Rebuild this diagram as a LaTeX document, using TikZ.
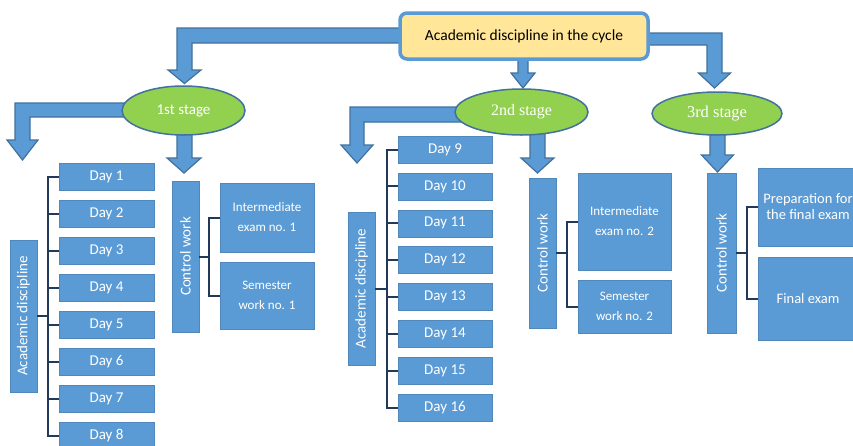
\documentclass[tikz,border=0pt]{standalone}
\usepackage{fontspec}
\setmainfont{Carlito}
\newfontfamily\stagefont{Liberation Serif}
\usetikzlibrary{shapes.geometric}
\definecolor{boxblue}{HTML}{5B9BD5}
\definecolor{edgeblue}{HTML}{41719C}
\definecolor{stagegreen}{HTML}{92D050}
\definecolor{titlefill}{HTML}{FFE699}
\definecolor{brackc}{HTML}{22395A}
\begin{document}
\begin{tikzpicture}[x=1pt,y=-1pt,
 bbox/.style={rectangle, fill=boxblue, draw=boxblue!88!black, line width=0.5pt, text=white, inner sep=0pt, font=\fontsize{15}{18}\selectfont},
 daybox/.style={bbox, minimum width=95pt, minimum height=27pt},
 vbox/.style={bbox, rotate=90, minimum height=27pt},
 exbox/.style={bbox, align=center, font=\fontsize{13}{20}\selectfont},
 stage/.style={ellipse, fill=stagegreen, draw=edgeblue, line width=1.5pt, text=white, inner sep=0pt},
 barrow/.style={fill=boxblue, draw=edgeblue, line width=1.2pt, line join=miter},
 brk/.style={draw=brackc, line width=2pt},
]
\useasboundingbox (0,0) rectangle (853,445);
\clip (0,0) rectangle (853,445);
\fill[white] (0,0) rectangle (853,445);

% block arrows
\draw[barrow] (410,28) -- (177,28) -- (177,70) -- (168,70) -- (184.5,83.5) -- (201,70) -- (192,70) -- (192,43) -- (410,43) -- cycle;
\draw[barrow] (518,55) -- (518,73) -- (511,73) -- (523,88) -- (535,73) -- (528,73) -- (528,55) -- cycle;
\draw[barrow] (640,33) -- (722,33) -- (722,73) -- (730.5,73) -- (714.5,88) -- (698.5,73) -- (707,73) -- (707,45) -- (640,45) -- cycle;
\draw[barrow] (140,103) -- (15,103) -- (15,140) -- (7,140) -- (22.5,160) -- (38,140) -- (30,140) -- (30,117) -- (140,117) -- cycle;
\draw[barrow] (177,125) -- (177,158) -- (167,158) -- (184,173) -- (201,158) -- (192,158) -- (192,125) -- cycle;
\draw[barrow] (470,107) -- (350,107) -- (350,145) -- (341,145) -- (357,163) -- (373,145) -- (364,145) -- (364,122) -- (470,122) -- cycle;
\draw[barrow] (530,125) -- (530,158) -- (521,158) -- (537.5,173) -- (554,158) -- (545,158) -- (545,125) -- cycle;
\draw[barrow] (710,125) -- (710,155) -- (701.5,155) -- (717.5,172) -- (733.5,155) -- (725,155) -- (725,125) -- cycle;

% title and stages
\node[rectangle, rounded corners=7pt, fill=titlefill, draw=boxblue, line width=3.5pt, minimum width=248pt, minimum height=46pt, font=\fontsize{15.5}{18}\selectfont] (top) at (524,36) {Academic discipline in the cycle};
\node[stage, minimum width=123pt, minimum height=49pt, font=\fontsize{15}{18}\selectfont] (s1) at (183.5,110.5) {1st stage};
\node[stage, minimum width=133pt, minimum height=46pt, font=\stagefont\fontsize{16}{18}\selectfont] (s2) at (521.5,112) {2nd stage};
\node[stage, minimum width=130pt, minimum height=43pt, font=\stagefont\fontsize{16.5}{18}\selectfont] (s3) at (717,113.5) {3rd stage};

% column 1
\foreach \i in {1,...,8} \node[daybox] (d\i) at (106.5,{176.5+37*(\i-1)}) {Day \i};
\node[vbox, minimum width=152pt] (ad1) at (23.5,316) {Academic discipline};
\draw[brk] (d1.west) -- ++(-11,0) |- (d8.west);
\foreach \i in {2,...,7} \draw[brk] (d\i.west) -- ++(-11,0);
\draw[brk] (ad1.south) -- ++(11,0);

\node[vbox, minimum width=151pt] (cw1) at (185.5,256.5) {Control work};
\node[exbox, minimum width=94pt, minimum height=69pt] (ie1) at (267,217.5) {Intermediate\\exam no. 1};
\node[exbox, minimum width=94pt, minimum height=67pt] (sw1) at (267,295.5) {Semester\\work no. 1};
\draw[brk] (ie1.west) -- ++(-11,0) |- (sw1.west);
\draw[brk] (cw1.south) -- ++(10,0);

% column 2
\foreach \i in {9,...,16} \node[daybox, minimum width=94pt] (d\i) at (445,{149.5+36.9*(\i-9)}) {Day \i};
\node[vbox, minimum width=153pt] (ad2) at (361.5,288.5) {Academic discipline};
\draw[brk] (d9.west) -- ++(-11,0) |- (d16.west);
\foreach \i in {10,...,15} \draw[brk] (d\i.west) -- ++(-11,0);
\draw[brk] (ad2.south) -- ++(12,0);

\node[vbox, minimum width=150pt] (cw2) at (542.5,253) {Control work};
\node[exbox, minimum width=93pt, minimum height=97pt] (ie2) at (624.5,221.5) {Intermediate\\exam no. 2};
\node[exbox, minimum width=93pt, minimum height=53pt] (sw2) at (624.5,306.5) {Semester\\work no. 2};
\draw[brk] (ie2.west) -- ++(-11,0) |- (sw2.west);
\draw[brk] (cw2.south) -- ++(11,0);

% column 3
\node[vbox, minimum width=160pt, minimum height=29pt] (cw3) at (721.5,253) {Control work};
\node[bbox, align=center, font=\fontsize{14.5}{16}\selectfont, minimum width=100pt, minimum height=78pt] (prep) at (808,207) {Preparation for\\the final exam};
\node[bbox, font=\fontsize{14.5}{16}\selectfont, minimum width=100pt, minimum height=83pt] (final) at (808,298.5) {Final exam};
\draw[brk] (prep.west) -- ++(-11,0) |- (final.west);
\draw[brk] (cw3.south) -- ++(11,0);
\end{tikzpicture}
\end{document}
